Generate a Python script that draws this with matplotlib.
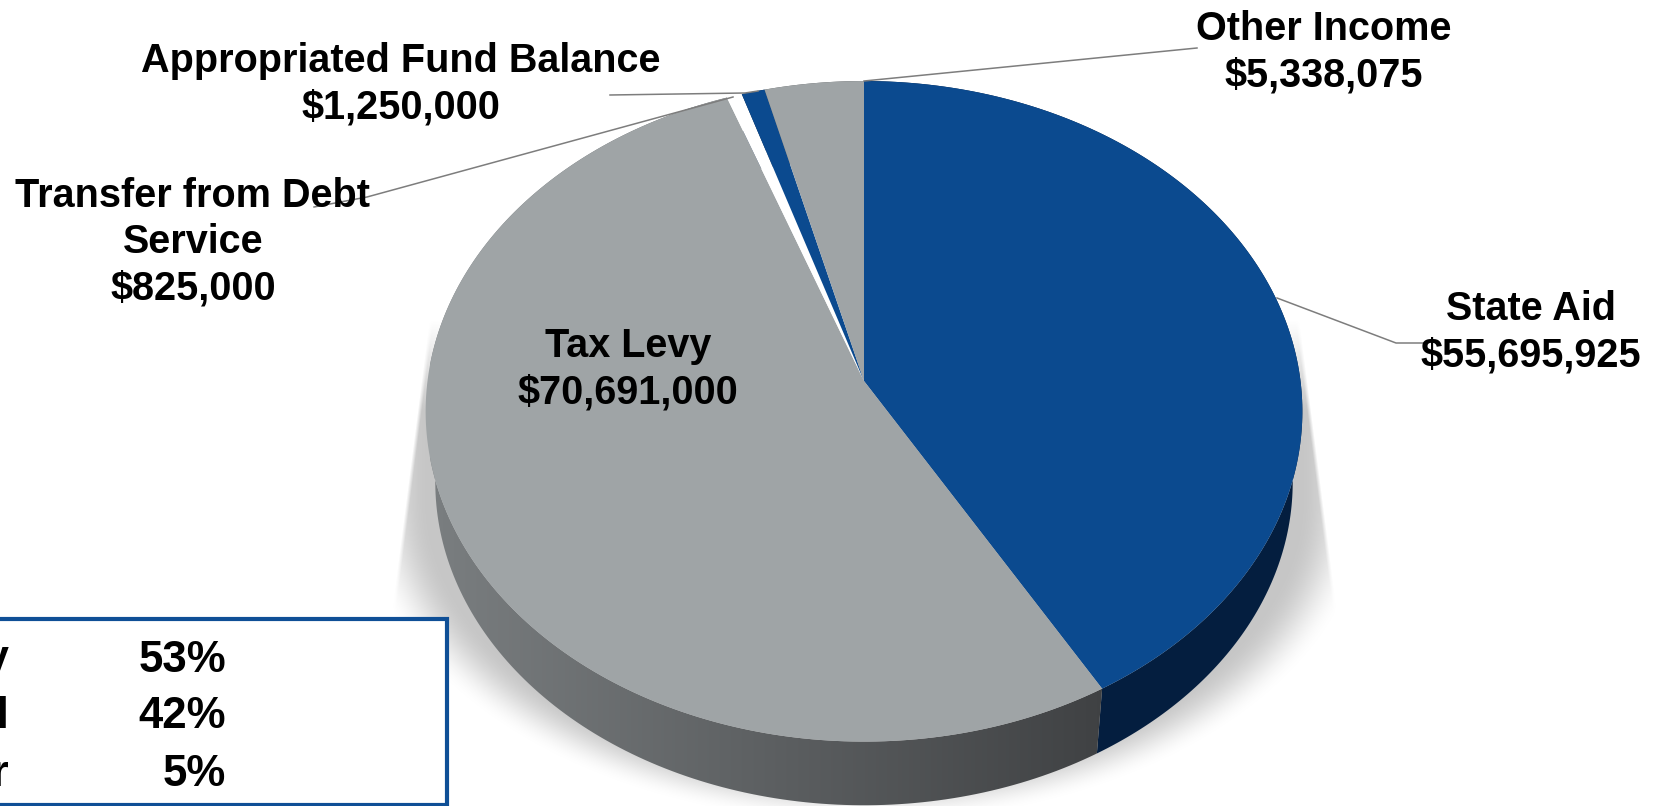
import numpy as np
import matplotlib
matplotlib.use("Agg")
import matplotlib.pyplot as plt
from matplotlib.patches import Polygon, Rectangle

plt.rcParams['font.family'] = ['Liberation Sans', 'DejaVu Sans']

# revenue slices, clockwise from twelve o'clock
sources = ["State Aid", "Tax Levy", "Transfer from Debt Service", "Appropriated Fund Balance", "Other Income"]
amounts = [55695925, 70691000, 825000, 1250000, 5338075]
top_colors = ["#0b4a8f", "#9fa4a6", "#ffffff", "#0b4a8f", "#9fa4a6"]
side_colors = ["#041e3f", None, "#ffffff", "#041e3f", None]

share_names = ["Tax Levy", "State Aid", "Other"]
share_labels = ["53%", "42%", "5%"]

W, H = 1668, 806
HUB_X, HUB_Y = 864, 381
DEPTH_Y, DEPTH_SCALE = 452.6, 0.978
RX, RY, TILT = 436.5, 327.5, 0.0918
BLUE = "#0f4f96"
LINE = "#7d7d7d"


def rim(theta, hub_y=HUB_Y, scale=1.0):
    # circle seen in perspective: the hub sits above the centre of the ellipse
    u, v = np.sin(theta), np.cos(theta)
    d = 1 + TILT * v
    return np.column_stack((HUB_X + scale * RX * u / d, hub_y - scale * RY * v / d))


def draw_shadow(ax):
    xx, yy = np.meshgrid(np.arange(W), np.arange(H))
    half_width = 436 + (yy - 327) * 30 / 233
    sides = np.clip((half_width - np.abs(xx - HUB_X)) / 4, 0, 1)
    # only the lower part of the shadow fades out
    e = np.sqrt(((xx - HUB_X) / 500) ** 2 + (np.maximum(yy - 500, 0) / 320) ** 2)
    fall = np.clip((1.01 - e) / 0.14, 0, 1)
    fall = fall * fall * (3 - 2 * fall)
    top = np.clip((yy - 320) / 90, 0, 1)
    img = np.zeros((H, W, 4))
    img[..., :3] = 0.78
    img[..., 3] = sides * fall * top
    ax.imshow(img, extent=(0, W, H, 0), zorder=1, aspect="auto", interpolation="bilinear")


def draw_pie(ax):
    edges = np.cumsum([0] + amounts) / sum(amounts) * 2 * np.pi
    side_ramp = np.linspace(0, 1, 256).reshape(1, -1)
    cmap = matplotlib.colors.LinearSegmentedColormap.from_list("rim", ["#7a7e80", "#3f4143"])
    for i in range(len(amounts)):
        theta = np.linspace(edges[i], edges[i + 1], 200)
        upper = rim(theta)
        lower = rim(theta, DEPTH_Y, DEPTH_SCALE)
        side = np.vstack((upper, lower[::-1]))
        if side_colors[i] is None:
            patch = Polygon(side, closed=True, fc="none", ec="none", zorder=2)
            ax.add_patch(patch)
            im = ax.imshow(side_ramp, cmap=cmap, extent=(430, 1110, H, 0), zorder=2, aspect="auto")
            im.set_clip_path(patch)
        elif side_colors[i] != "#ffffff":
            ax.add_patch(Polygon(side, closed=True, fc=side_colors[i], ec="none", zorder=2))
    for i in range(len(amounts)):
        theta = np.linspace(edges[i], edges[i + 1], 200)
        face = np.vstack(([[HUB_X, HUB_Y]], rim(theta)))
        ax.add_patch(Polygon(face, closed=True, fc=top_colors[i], ec="none", zorder=3))


def draw_labels(ax):
    label = dict(fontsize=28.5, fontweight="bold", color="black", ha="center", va="center",
                 linespacing=1.27, zorder=6)
    ax.text(628, 369, "Tax Levy\n$70,691,000", **label)
    ax.text(1531, 332, "State Aid\n$55,695,925", **label)
    ax.text(1324, 52, "Other Income\n$5,338,075", **label)
    ax.text(401, 84, "Appropriated Fund Balance\n$1,250,000", **label)
    ax.text(193, 242, "Transfer from Debt\nService\n$825,000", **label)

    leaders = [
        ([864, 1197], [81, 48]),
        ([610, 745, 758], [95, 93, 91]),
        ([314, 367, 733], [207, 197, 97]),
        ([1277, 1396, 1425], [298, 343, 343]),
    ]
    for xs, ys in leaders:
        ax.plot(xs, ys, color=LINE, lw=1.1, zorder=5)


def draw_share_box(ax):
    ax.add_patch(Rectangle((-20, 619), 467, 186, fc="white", ec=BLUE, lw=3, zorder=7))
    for row, (name, share) in enumerate(zip(share_names, share_labels)):
        y = 660 + row * 57
        ax.text(9, y, name, fontsize=31.5, fontweight="bold", ha="right", va="center", zorder=8)
        ax.text(226, y, share, fontsize=31.5, fontweight="bold", ha="right", va="center", zorder=8)


def main():
    fig = plt.figure(figsize=(W / 100, H / 100), dpi=100)
    ax = fig.add_axes([0, 0, 1, 1])
    draw_shadow(ax)
    draw_pie(ax)
    draw_labels(ax)
    draw_share_box(ax)
    ax.set_xlim(0, W)
    ax.set_ylim(H, 0)
    ax.axis("off")
    fig.savefig("out.png", dpi=100, facecolor="white")


if __name__ == "__main__":
    main()
